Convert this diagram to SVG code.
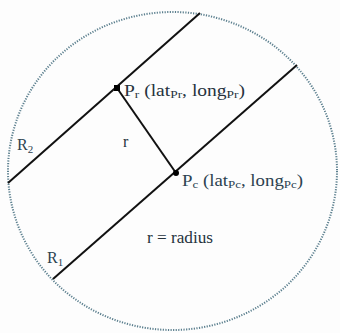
<svg xmlns="http://www.w3.org/2000/svg" width="340" height="333" viewBox="0 0 340 333">
<style>
.s{font-size:11px}
.ln{stroke:#111;stroke-width:2;fill:none}
</style>
<rect width="340" height="333" fill="#fdfdfd"/>
<g id="circle"><ellipse cx="172.5" cy="171" rx="164.5" ry="159" fill="none" stroke="#5b7f8e" stroke-width="2" stroke-dasharray="1.2 1.4"/></g>
<g id="connectors">
<line class="ln" x1="8" y1="183" x2="200" y2="13"/>
<line class="ln" x1="53" y1="279" x2="297" y2="65"/>
<line class="ln" x1="117" y1="88" x2="176" y2="173" stroke-width="1.5"/>
</g>
<g font-family="Liberation Serif, Times New Roman, DejaVu Serif, serif" font-size="16" fill="#26333d">
<g id="Pr"><rect x="114" y="85" width="6" height="6" fill="#000"/>
<text x="124" y="96" textLength="121" lengthAdjust="spacingAndGlyphs">P<tspan class="s" dy="2">r</tspan><tspan dy="-2"> (lat</tspan><tspan class="s" dy="2">Pr</tspan><tspan dy="-2">, long</tspan><tspan class="s" dy="2">Pr</tspan><tspan dy="-2">)</tspan></text></g>
<g id="Pc"><circle cx="176" cy="173" r="3" fill="#000"/>
<text x="182" y="186" fill="#2c4250" textLength="121" lengthAdjust="spacingAndGlyphs">P<tspan class="s" dy="2">c</tspan><tspan dy="-2"> (lat</tspan><tspan class="s" dy="2">Pc</tspan><tspan dy="-2">, long</tspan><tspan class="s" dy="2">Pc</tspan><tspan dy="-2">)</tspan></text></g>
<g id="labels">
<text x="123" y="147">r</text>
<text x="17" y="150" fill="#2c4250">R<tspan class="s" dy="3">2</tspan></text>
<text x="47" y="263" fill="#2c4250">R<tspan class="s" dy="3">1</tspan></text>
<text x="147" y="243" textLength="66" lengthAdjust="spacingAndGlyphs">r = radius</text>
</g>
</g>
</svg>
